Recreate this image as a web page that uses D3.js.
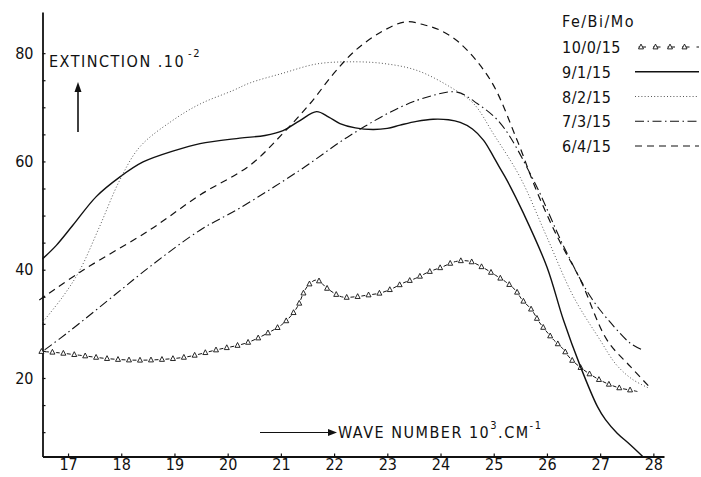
<!DOCTYPE html>
<html>
<head>
<meta charset="utf-8">
<script src="https://cdn.jsdelivr.net/npm/d3@7"></script>
<style>
  body { margin: 0; background: #fff; }
  svg { display: block; font-family: "DejaVu Sans Condensed", "DejaVu Sans", sans-serif; }
</style>
</head>
<body>
<svg id="chart" width="701" height="477"></svg>
<script>
// === data === //

// wave number 10^3 cm-1 , extinction 10^-2
var fe10bi0 = [[16.5,24.9],[16.78,24.7],[17.22,24.2],[17.72,23.6],[18.22,23.3],[18.72,23.4],[19.23,23.9],
  [19.79,25.2],[20.36,26.5],[20.79,28.5],[21.01,29.8],[21.2,31.6],[21.33,33.5],[21.42,35.6],[21.52,37.2],
  [21.67,38.1],[21.89,36.4],[22.14,35.0],[22.4,35.0],[22.62,35.3],[22.87,35.7],[23.09,36.5],[23.31,37.6],
  [23.53,38.4],[23.78,39.6],[24.03,40.5],[24.28,41.5],[24.53,41.6],[24.78,40.5],[25.03,39.0],[25.22,37.8],
  [25.41,36.2],[25.53,34.5],[25.72,32.5],[25.85,30.4],[26.0,28.5],[26.13,27.0],[26.29,25.5],[26.44,23.6],
  [26.69,21.5],[26.98,19.7],[27.2,18.7],[27.39,18.1],[27.61,17.7],[27.7,17.5]]

var fe9bi1 = [[16.52,42.0],[16.78,44.5],[17.09,48.2],[17.53,53.5],[17.97,57.1],[18.41,59.9],[19.0,62.0],
  [19.48,63.3],[20.23,64.3],[20.7,64.8],[21.04,65.7],[21.35,67.5],[21.67,69.2],[21.9,68.2],[22.11,67.0],
  [22.4,66.2],[22.73,65.9],[23.0,66.1],[23.24,66.7],[23.55,67.4],[23.86,67.8],[24.15,67.7],[24.37,67.2],
  [24.6,66.0],[24.81,63.9],[25.0,60.8],[25.12,58.7],[25.25,56.5],[25.56,50.4],[26.0,40.5],[26.31,30.7],
  [26.63,22.1],[26.95,14.7],[27.1,12.3],[27.32,9.8],[27.55,7.8],[27.8,5.5]]

var fe8bi2 = [[16.53,30.4],[16.9,35.0],[17.22,39.9],[17.59,47.9],[17.97,56.5],[18.35,62.7],[18.97,67.6],
  [19.48,70.6],[20.1,73.1],[20.42,74.5],[21.04,76.3],[21.67,78.0],[22.3,78.4],[22.92,78.1],[23.56,76.8],
  [24.19,73.7],[24.62,70.7],[25.0,65.0],[25.5,57.0],[26.0,46.0],[26.5,35.0],[27.0,27.0],[27.3,22.5],
  [27.6,19.8],[27.9,18.2]]

var fe7bi3 = [[16.56,25.2],[16.97,28.2],[17.91,35.6],[18.53,40.5],[19.48,47.3],[20.23,51.4],[21.36,58.4],
  [22.3,64.8],[23.24,70.0],[23.86,72.2],[24.31,72.8],[24.69,70.7],[25.13,67.0],[25.75,56.5],[26.32,44.2],
  [26.82,35.0],[27.26,29.5],[27.57,26.4],[27.79,25.2]]

var fe6bi4 = [[16.46,34.4],[17.28,39.9],[18.53,47.3],[19.48,53.8],[20.42,59.3],[21.04,65.2],[21.55,70.7],
  [21.99,76.2],[22.4,80.5],[22.9,84.0],[23.35,85.8],[23.7,85.2],[24.0,84.2],[24.37,81.8],[24.94,75.0],
  [25.44,63.9],[25.8,54.7],[26.2,46.0],[26.63,38.1],[27.13,27.0],[27.57,22.1],[27.95,18.1]]

var legendTitle = "Fe/Bi/Mo"
var legendLabels = ["10/0/15", "9/1/15", "8/2/15", "7/3/15", "6/4/15"]
var xTicks = d3.range(17, 29, 1)
var yTicks = d3.range(10, 81, 5)
var yLabels = [20, 40, 60, 80]

// === set up === //

var svg = d3.select("#chart")
var ink = "#111"

var x = d3.scaleLinear().domain([16.52, 28.2]).range([42.5, 664])
var y = d3.scaleLinear().domain([5.5, 87.6]).range([456.5, 12])

var styles = [
  {data: fe10bi0, dash: "0,3.5,4,3.5", width: 1, color: ink, tri: true},
  {data: fe9bi1, dash: null, width: 1.4, color: ink},
  {data: fe8bi2, dash: "1,2.2", width: 1, color: "#555"},
  {data: fe7bi3, dash: "9,3.5,1.5,3.5", width: 1.1, color: ink},
  {data: fe6bi4, dash: "7,5", width: 1.2, color: ink}
]

// axes
var gx = svg.append("g").attr("transform", "translate(0," + y.range()[0] + ")")
  .call(d3.axisBottom(x).tickValues(xTicks).tickSize(-3).tickSizeOuter(0).tickPadding(2))
var gy = svg.append("g").attr("transform", "translate(" + x.range()[0] + ",0)")
  .call(d3.axisLeft(y).tickValues(yTicks).tickSize(-3).tickSizeOuter(0).tickPadding(9)
    .tickFormat(function(d) { return yLabels.indexOf(d) >= 0 ? d : "" }))

;[gx, gy].forEach(function(g) {
  g.select(".domain").attr("stroke", ink).attr("stroke-width", 1.8)
  g.selectAll(".tick line").attr("stroke", ink).attr("stroke-width", 1.2)
  g.selectAll(".tick text").attr("fill", ink).style("font-size", "16px")
    .style("font-family", '"DejaVu Sans Condensed", "DejaVu Sans", sans-serif')
})

// curves
var line = d3.line().x(function(d) { return x(d[0]) }).y(function(d) { return y(d[1]) })
  .curve(d3.curveCatmullRom.alpha(0.5))

function triangles(pathNode, step, start) {
  var len = pathNode.getTotalLength()
  var pts = []
  for (var l = start; l <= len - 1; l += step) pts.push(pathNode.getPointAtLength(l))
  return pts
}

function drawTri(pts) {
  svg.append("g").selectAll("path").data(pts).enter().append("path")
    .attr("d", "M0,-2.9L2.5,1.9L-2.5,1.9Z")
    .attr("transform", function(p) { return "translate(" + p.x + "," + p.y + ")" })
    .attr("fill", "#fff").attr("stroke", ink).attr("stroke-width", 0.9)
}

styles.forEach(function(s) {
  var p = svg.append("path").attr("d", line(s.data))
    .attr("fill", "none").attr("stroke", s.color).attr("stroke-width", s.width)
    .attr("stroke-dasharray", s.dash)
  if (s.tri) drawTri(triangles(p.node(), 11, 0))
})

// legend
var lg = svg.append("g").style("font-size", "16px").attr("fill", ink)
lg.append("text").attr("x", 562).attr("y", 27).style("letter-spacing", "1.5px").text(legendTitle)

var ly = d3.scalePoint().domain(legendLabels).range([53, 152])

legendLabels.forEach(function(lab, i) {
  var yy = ly(lab)
  lg.append("text").attr("x", 562).attr("y", yy).style("letter-spacing", "0.5px").text(lab)
  var s = styles[i]
  var p = svg.append("path").attr("d", "M635," + (yy - 6) + "H699")
    .attr("fill", "none").attr("stroke", s.color).attr("stroke-width", s.width)
    .attr("stroke-dasharray", s.tri ? "0,3.5,7.5,3.5" : s.dash)
  if (s.tri) drawTri(triangles(p.node(), 14.5, 6))
})

// axis titles
var t1 = svg.append("text").attr("x", 49).attr("y", 67).attr("fill", ink)
  .style("font-size", "16px").style("letter-spacing", "1.5px")
t1.append("tspan").text("EXTINCTION .10")
t1.append("tspan").attr("dy", -10).attr("dx", 3).style("font-size", "11px").text("-2")

svg.append("line").attr("x1", 78).attr("x2", 78).attr("y1", 132).attr("y2", 90)
  .attr("stroke", ink).attr("stroke-width", 1.6)
svg.append("path").attr("d", "M78,82L81.5,92L74.5,92Z").attr("fill", ink)

svg.append("line").attr("x1", 260).attr("x2", 330).attr("y1", 432.5).attr("y2", 432.5)
  .attr("stroke", ink).attr("stroke-width", 1.2)
svg.append("path").attr("d", "M337,432.5L328,429L328,436Z").attr("fill", ink)

var t2 = svg.append("text").attr("x", 338).attr("y", 438).attr("fill", ink)
  .style("font-size", "16px").style("letter-spacing", "1.5px")
t2.append("tspan").text("WAVE NUMBER  10")
t2.append("tspan").attr("dy", -9).style("font-size", "11px").text("3")
t2.append("tspan").attr("dy", 9).text(".CM")
t2.append("tspan").attr("dy", -9).style("font-size", "11px").text("-1")
</script>
</body>
</html>
